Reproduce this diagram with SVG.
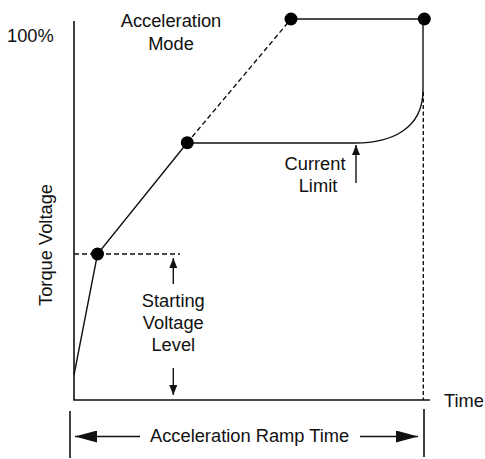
<svg xmlns="http://www.w3.org/2000/svg" width="485" height="459" viewBox="0 0 485 459">
<defs>
<style>
text{font-family:"Liberation Sans",Arial,sans-serif;font-size:18.3px;fill:#111}
.ln{stroke:#111;stroke-width:1.4;fill:none}
.ax{stroke:#111;stroke-width:1.6;fill:none}
.dsh{stroke:#111;stroke-width:1.4;fill:none;stroke-dasharray:5 3}
.dot{fill:#000}
</style>
<marker id="sa" viewBox="0 0 10 8" refX="10" refY="4" markerWidth="10" markerHeight="8" markerUnits="userSpaceOnUse" orient="auto"><path d="M0,0 L10,4 L0,8 Z" fill="#111"/></marker>
<marker id="la" viewBox="0 0 22 12" refX="22" refY="6" markerWidth="22" markerHeight="12" markerUnits="userSpaceOnUse" orient="auto"><path d="M0,0 L22,6 L0,12 Z" fill="#111"/></marker>
</defs>
<g id="axes">
<path class="ax" d="M74,21 V400 H430"/>
<text x="7" y="42">100%</text>
<text x="444" y="407">Time</text>
<text transform="translate(52,245) rotate(-90)" text-anchor="middle">Torque Voltage</text>
</g>
<g id="connectors">
<path class="ln" d="M74,375 L97.5,254 L187,143"/>
<path class="dsh" d="M187,143 L291,19"/>
<path class="ln" d="M291,19 H424"/>
<path class="ln" d="M187,143 H355 C390,143 423,130 423,90 V19"/>
<path class="dsh" d="M74,254 H180"/>
<path class="dsh" d="M423.3,92 V400" style="stroke-dasharray:4 2.5"/>
<path class="ln" d="M173.3,284 V258" marker-end="url(#sa)"/>
<path class="ln" d="M173.3,368 V395" marker-end="url(#sa)"/>
<path class="ln" d="M356,183 V145" marker-end="url(#sa)"/>
<path class="ax" d="M70,411 V458 M424,409 V457"/>
<path class="ln" d="M140,436.5 H75" marker-end="url(#la)"/>
<path class="ln" d="M360,436.5 H418" marker-end="url(#la)"/>
</g>
<g id="p1"><circle class="dot" cx="97.5" cy="254" r="6.5"/></g>
<g id="p2"><circle class="dot" cx="187.3" cy="142.7" r="6.5"/></g>
<g id="p3"><circle class="dot" cx="291" cy="19" r="6.5"/></g>
<g id="p4"><circle class="dot" cx="424.3" cy="19" r="6.5"/></g>
<g id="accel-mode"><text x="171" y="27" text-anchor="middle">Acceleration</text><text x="171" y="50" text-anchor="middle">Mode</text></g>
<g id="current-limit"><text x="315" y="170" text-anchor="middle">Current</text><text x="318" y="191.5" text-anchor="middle">Limit</text></g>
<g id="starting"><text x="173.3" y="307" text-anchor="middle">Starting</text><text x="173.3" y="329" text-anchor="middle">Voltage</text><text x="173.3" y="351" text-anchor="middle">Level</text></g>
<g id="ramp"><text x="150" y="442">Acceleration Ramp Time</text></g>
</svg>
